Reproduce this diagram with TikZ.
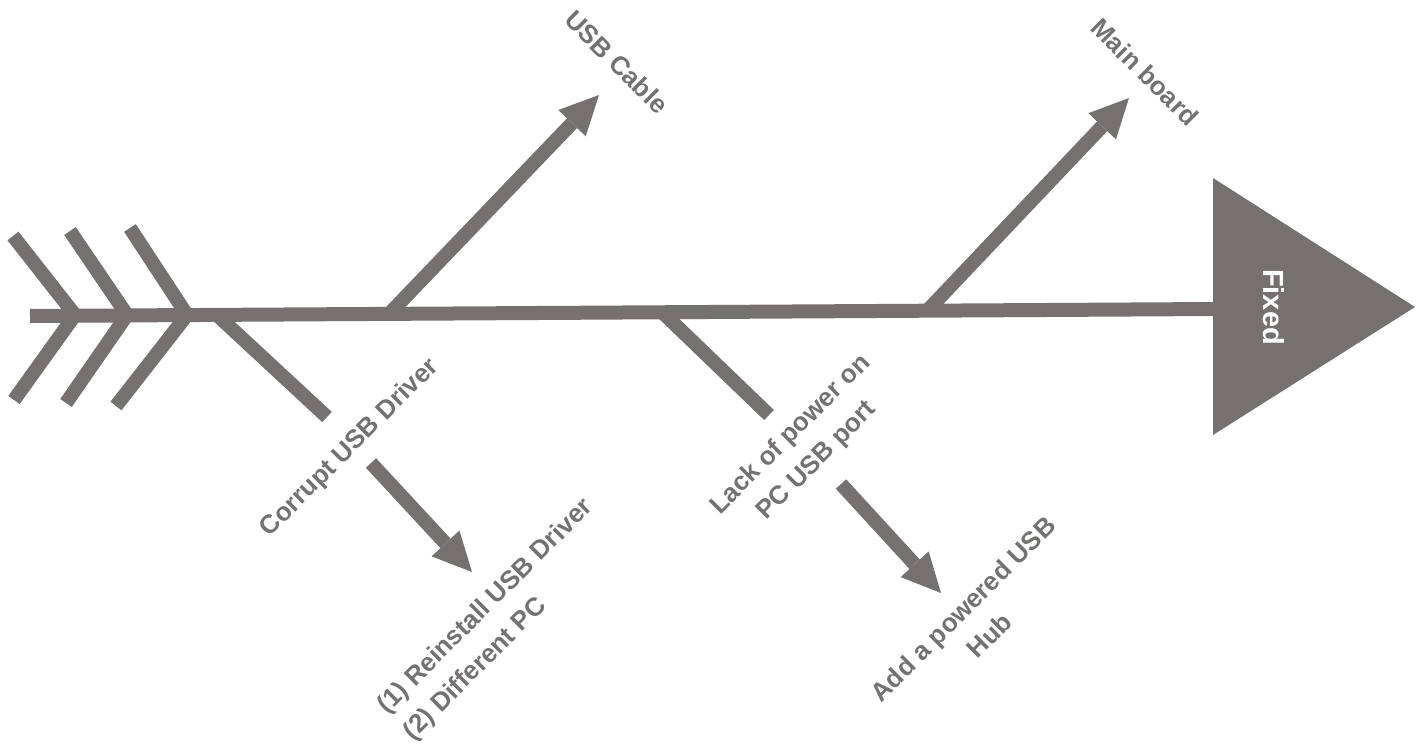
\documentclass[tikz,border=0pt]{standalone}
\usepackage{fontspec}
\setmainfont{Liberation Sans}
\usetikzlibrary{arrows.meta}
\definecolor{fishgray}{RGB}{118,113,113}
\begin{document}
\begin{tikzpicture}[x=1pt,y=-1pt,
  bone/.style={draw=fishgray,line width=14pt,line cap=butt},
  bonearrow/.style={bone,-{Triangle[length=39pt,width=38pt,line width=0pt]}},
  lbl/.style={text=fishgray,font=\bfseries\fontsize{26}{37}\selectfont,align=center,inner sep=0pt}]
\useasboundingbox (0,0) rectangle (1423,746);
% spine
\coordinate (tail) at (30,316);
\coordinate (spineend) at (1215,309);
\draw[bone] (tail) -- (spineend);
% head triangle
\coordinate (htop) at (1213,178);
\coordinate (hbot) at (1213,435);
\coordinate (htip) at (1415,307);
\fill[fishgray] (htop) -- (htip) -- (hbot) -- cycle;
\node[lbl,text=white,font=\bfseries\fontsize{29}{34}\selectfont,rotate=-90] (fixed) at (1274,307) {Fixed};
% tail chevrons
\coordinate (c1a) at (13,236); \coordinate (c1v) at (75,315); \coordinate (c1b) at (14,400);
\coordinate (c2a) at (70,231); \coordinate (c2v) at (127,315); \coordinate (c2b) at (66,403);
\coordinate (c3a) at (130,228); \coordinate (c3v) at (187,315); \coordinate (c3b) at (116,406);
\draw[bone,line join=miter] (c1a) -- (c1v) -- (c1b);
\draw[bone,line join=miter] (c2a) -- (c2v) -- (c2b);
\draw[bone,line join=miter] (c3a) -- (c3v) -- (c3b);
% bones
\coordinate (b1s) at (217,315); \coordinate (b1e) at (327,417);
\coordinate (b2s) at (390,313); \coordinate (b2e) at (599,95);
\coordinate (b3s) at (662,312); \coordinate (b3e) at (769,415);
\coordinate (b4s) at (927,311); \coordinate (b4e) at (1129,98);
\draw[bone] (b1s) -- (b1e);
\draw[bonearrow] (b2s) -- (b2e);
\draw[bone] (b3s) -- (b3e);
\draw[bonearrow] (b4s) -- (b4e);
% remedy arrows
\coordinate (r1s) at (371,463); \coordinate (r1e) at (472,572);
\coordinate (r2s) at (841,484); \coordinate (r2e) at (941,593);
\draw[bonearrow] (r1s) -- (r1e);
\draw[bonearrow] (r2s) -- (r2e);
% labels
\node[lbl,rotate=-45] (usbcable) at (617,62) {USB Cable};
\node[lbl,rotate=-45] (mainboard) at (1145,72) {Main board};
\node[lbl,rotate=45] (corrupt) at (350,448) {Corrupt USB Driver};
\node[lbl,rotate=45,align=left] (reinstall) at (499,620) {(1) Reinstall USB Driver\\(2) Different PC};
\node[lbl,rotate=45] (lack) at (804,448) {Lack of power on\\PC USB port};
\node[lbl,rotate=45] (hub) at (976,622) {Add a powered USB\\Hub};
\end{tikzpicture}
\end{document}
